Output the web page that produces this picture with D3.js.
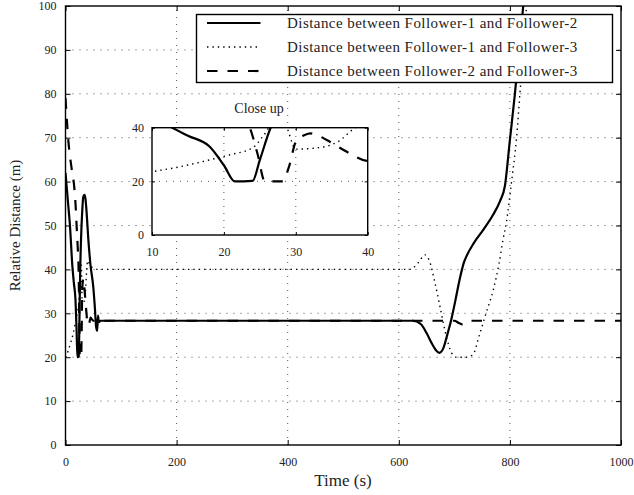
<!DOCTYPE html>
<html lang="en">
<head>
<meta charset="UTF-8">
<title>Relative Distance</title>
<script src="https://cdn.jsdelivr.net/npm/d3@7"></script>
<style>
    body { margin: 0; background: #fff; }
    svg { display: block; }
    text { font-family: "Liberation Serif", "DejaVu Serif", serif; fill: #222; }
    .grid line { stroke: #555; stroke-width: 1; stroke-dasharray: 1,6; }
    .ticks line { stroke: #000; stroke-width: 1; }
    .ticks path { display: none; }
</style>
</head>
<body>
<script>
// legend labels
const seriesNames = [
    "Distance between Follower-1 and Follower-2",
    "Distance between Follower-1 and Follower-3",
    "Distance between Follower-2 and Follower-3"
];

// Follower-1 / Follower-2 (solid)
const f12Time = [0, 4, 8, 12.5, 15, 18, 20, 21.5, 24, 25, 26.5, 28, 30, 32, 34, 36, 38, 41, 45, 50, 53, 55, 57, 58.5, 60, 63,
    625, 640, 650, 660, 668, 673, 680, 687, 694, 702, 710, 717, 723, 735, 752, 770, 782, 791, 800, 809, 818, 824, 828];
const f12Dist = [62, 56, 50, 40.5, 37, 33, 26, 20, 20.2, 28, 40, 47, 53, 56.5, 57, 56, 53, 47, 41, 36, 31, 27, 26, 29.5, 28, 28.3,
    28.3, 27.5, 25.5, 23, 21.4, 21, 22, 25, 28.3, 33, 38, 41.5, 43.3, 46, 49, 52.5, 55.5, 59, 69.5, 80, 92, 100, 106];

// Follower-1 / Follower-3 (dotted)
const f13Time = [0, 5, 10, 14, 18, 21, 24, 25.5, 27, 28.5, 30, 33, 36, 38, 40, 44, 50, 60,
    620, 635, 647, 655, 665, 675, 685, 695, 704, 720, 733, 745, 757, 770, 780, 788, 794, 803, 812, 818, 824, 830, 834];
const f13Dist = [20, 21.5, 23.6, 25.5, 28, 30, 32.5, 37, 42, 41, 32, 32.5, 35, 39.5, 42, 41, 40.3, 40,
    40, 41.5, 43.3, 42, 37, 31, 25, 21, 20, 20, 20.5, 25, 30, 35.3, 41, 47, 51, 60, 70, 80, 90, 100, 106];

// Follower-2 / Follower-3 (dashed)
const f23Time = [0, 5, 11, 15, 18, 20, 22, 23.6, 24.7, 25.7, 28.2, 29, 30.1, 31, 32, 33, 34.3, 37.1, 39.9, 42, 45, 50,
    700, 708, 716, 722, 730, 1000];
const f23Dist = [79, 69.5, 63, 59.7, 55, 50, 45, 40, 30, 20, 20, 25, 35.4, 37, 37.9, 37.2, 35.4, 31, 27.6, 27.3, 29, 28.3,
    28.3, 27.8, 27.4, 27.6, 28.3, 28.3];

const xTicks = [0, 200, 400, 600, 800, 1000];
const yTicks = [0, 10, 20, 30, 40, 50, 60, 70, 80, 90, 100];
const insetXTicks = [10, 20, 30, 40];
const insetYTicks = [0, 20, 40];

const series = [
    { name: seriesNames[0], t: f12Time, v: f12Dist, width: 2.2, dash: null },
    { name: seriesNames[1], t: f13Time, v: f13Dist, width: 1.4, dash: "1.4,4" },
    { name: seriesNames[2], t: f23Time, v: f23Dist, width: 2.2, dash: "10.5,10" }
];

const w = 634, h = 495;
const svg = d3.select("body").append("svg").attr("width", w).attr("height", h);

// draws one framed panel (grid, clipped lines, box, inward ticks on all sides)
function panel(x, y, id, opt) {
    const g = svg.append("g");
    const [x0, x1] = x.range(), [y0, y1] = y.range();
    const fmt = d3.format("d");

    g.append("rect").attr("x", x0).attr("y", y1).attr("width", x1 - x0).attr("height", y0 - y1)
        .attr("fill", "#fff");

    const grid = g.append("g").attr("class", "grid");
    grid.selectAll(".gx").data(opt.gridX).enter().append("line")
        .attr("x1", d => x(d)).attr("x2", d => x(d)).attr("y1", y0).attr("y2", y1);
    grid.selectAll(".gy").data(opt.gridY).enter().append("line")
        .attr("y1", d => y(d)).attr("y2", d => y(d)).attr("x1", x0).attr("x2", x1);

    svg.append("clipPath").attr("id", id).append("rect")
        .attr("x", x0).attr("y", y1).attr("width", x1 - x0).attr("height", y0 - y1);

    const line = d3.line().x(d => x(d[0])).y(d => y(d[1])).curve(d3.curveMonotoneX);
    g.append("g").attr("clip-path", "url(#" + id + ")")
        .selectAll("path").data(series).enter().append("path")
        .attr("d", s => line(d3.zip(s.t, s.v)))
        .attr("fill", "none").attr("stroke", "#000")
        .attr("stroke-width", s => s.width)
        .attr("stroke-dasharray", s => s.dash);

    const ts = opt.tick;
    g.append("g").attr("class", "ticks").attr("transform", "translate(0," + y0 + ")")
        .call(d3.axisBottom(x).tickValues(opt.xTicks).tickSize(-ts).tickPadding(opt.xPad).tickFormat(fmt))
        .selectAll("text").style("font-size", opt.font + "px").style("fill", "#222");
    g.append("g").attr("class", "ticks").attr("transform", "translate(0," + y1 + ")")
        .call(d3.axisTop(x).tickValues(opt.xTicks).tickSize(-ts).tickFormat(""));
    g.append("g").attr("class", "ticks").attr("transform", "translate(" + x0 + ",0)")
        .call(d3.axisLeft(y).tickValues(opt.yTicks).tickSize(-ts).tickPadding(opt.yPad).tickFormat(fmt))
        .selectAll("text").style("font-size", opt.font + "px").style("fill", "#222");
    g.append("g").attr("class", "ticks").attr("transform", "translate(" + x1 + ",0)")
        .call(d3.axisRight(y).tickValues(opt.yTicks).tickSize(-ts).tickFormat(""));

    g.append("rect").attr("x", x0).attr("y", y1).attr("width", x1 - x0).attr("height", y0 - y1)
        .attr("fill", "none").attr("stroke", "#000").attr("stroke-width", 1.4);
    return g;
}

// main chart
const xScale = d3.scaleLinear().domain([0, 1000]).range([65.5, 621]);
const yScale = d3.scaleLinear().domain([0, 100]).range([445, 6]);
panel(xScale, yScale, "clipMain", {
    gridX: xTicks.slice(1, -1), gridY: yTicks.slice(1, -1),
    xTicks: xTicks, yTicks: yTicks, tick: 5, xPad: 12, yPad: 9, font: 12
});

svg.append("text").attr("x", 343).attr("y", 486).attr("text-anchor", "middle")
    .style("font-size", "17px").text("Time (s)");
svg.append("text").attr("transform", "translate(20,225.5) rotate(-90)").attr("text-anchor", "middle")
    .style("font-size", "15px").text("Relative Distance (m)");

// legend
const lg = svg.append("g");
lg.append("rect").attr("x", 196.5).attr("y", 14.5).attr("width", 416).attr("height", 68)
    .attr("fill", "#fff").attr("stroke", "#000").attr("stroke-width", 1.4);
const rows = lg.selectAll(".row").data(series).enter().append("g")
    .attr("transform", (d, i) => "translate(0," + (23 + i * 24) + ")");
rows.append("line").attr("x1", 207).attr("x2", 260.5).attr("y1", 0).attr("y2", 0)
    .attr("stroke", "#000").attr("stroke-width", d => d.width).attr("stroke-dasharray", d => d.dash);
rows.append("text").attr("x", 287).attr("y", 0).attr("dy", "0.35em")
    .style("font-size", "15px").style("letter-spacing", "0.45px").text(d => d.name);

// close up inset
const xInset = d3.scaleLinear().domain([10, 40]).range([152, 367.7]);
const yInset = d3.scaleLinear().domain([0, 40]).range([235, 127.7]);
panel(xInset, yInset, "clipInset", {
    gridX: [20, 30], gridY: [20],
    xTicks: insetXTicks, yTicks: insetYTicks, tick: 3, xPad: 12.5, yPad: 8, font: 12
});
svg.append("text").attr("x", 259).attr("y", 113).attr("text-anchor", "middle")
    .style("font-size", "14px").text("Close up");
</script>
</body>
</html>
